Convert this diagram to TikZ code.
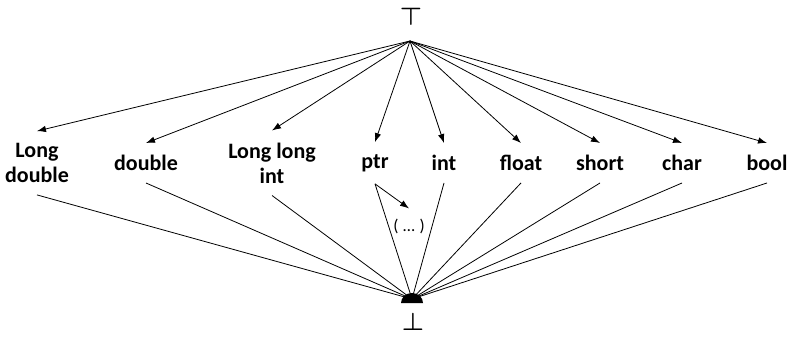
\documentclass[tikz,border=0pt]{standalone}
\usepackage{fontspec}
\setmainfont{Carlito}
\usetikzlibrary{arrows.meta}

\begin{document}
\begin{tikzpicture}[x=1pt,y=-1pt,>={Latex[length=9pt,width=6.5pt]},
	type/.style={font=\fontsize{22}{25}\selectfont\bfseries,align=center,inner sep=12pt},
	bound/.style={inner sep=0pt,font=\fontsize{26}{26}\selectfont\boldmath},
	lattice/.style={line width=0.8pt}]

\useasboundingbox (0,0) rectangle (788,337);

\node[bound] (topsym) at (411,17) {$\top$};
\node[bound] (botsym) at (413,322) {$\bot$};

\coordinate (top) at (410,41);
\coordinate (bot) at (412,299);

\foreach \n/\x/\t in {ldbl/37/{Long\\double},dbl/146/double,lli/272/{Long long\\int},
	ptr/375/ptr,int/444/int,flt/521/float,shrt/600/short,chr/682/char,bool/767/bool}{
	\node[type] (\n) at (\x,163) {\t};
}

\foreach \n in {ldbl,dbl,lli,ptr,int,flt,shrt,chr,bool}{
	\draw[lattice,->] (top) -- (\n.north);
	\draw[lattice] (\n.south) -- (bot);
}

\node[font=\fontsize{17}{17}\selectfont,inner sep=10pt] (more) at (409,226) {(\;\ldots\;)};
\draw[lattice,->] (ptr.south) -- (more.north);

\fill (401,303) arc[start angle=180,end angle=0,x radius=11pt,y radius=10pt] -- cycle;

\end{tikzpicture}
\end{document}
